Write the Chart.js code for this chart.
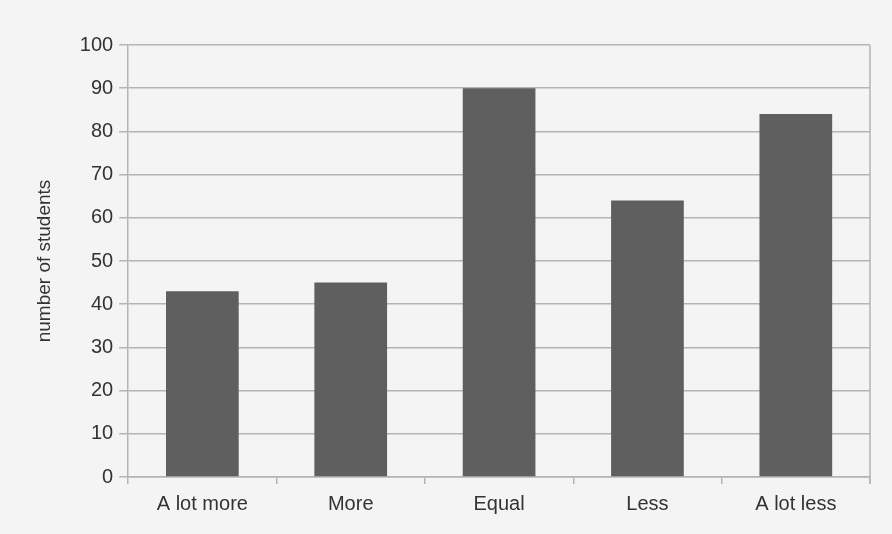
<!DOCTYPE html>
<html>
<head>
<meta charset="utf-8">
<script src="https://cdn.jsdelivr.net/npm/chart.js@4/dist/chart.umd.min.js"></script>
<style>
  html, body { margin: 0; padding: 0; background: #f4f4f4; }
  #wrap { width: 892px; height: 534px; }
</style>
</head>
<body>
<div id="wrap"><canvas id="barChart" width="892" height="534"></canvas></div>
<script>
const categories = ["A lot more", "More", "Equal", "Less", "A lot less"];
const students = [43, 45, 90, 64, 84];
const yTicks = [0, 10, 20, 30, 40, 50, 60, 70, 80, 90, 100];

// right edge line of the plot box
const rightBorder = {
    id: 'rightBorder',
    afterDraw(chart) {
        const ctx = chart.ctx;
        const a = chart.chartArea;
        ctx.save();
        ctx.strokeStyle = '#b4b4b4';
        ctx.lineWidth = 1.5;
        ctx.beginPath();
        ctx.moveTo(a.right, a.top);
        ctx.lineTo(a.right, a.bottom + 7);
        ctx.stroke();
        ctx.restore();
    }
};

const config = {
    type: 'bar',
    data: {
        labels: categories,
        datasets: [{
            label: "number of students",
            data: students,
            backgroundColor: '#5f5f5f',
            borderWidth: 0,
            categoryPercentage: 1,
            barPercentage: 0.49
        }]
    },
    plugins: [rightBorder],
    options: {
        responsive: false,
        animation: false,
        layout: {
            padding: { left: 33, right: 22, top: 45, bottom: 10 }
        },
        plugins: {
            legend: { display: false },
            tooltip: { enabled: false }
        },
        scales: {
            x: {
                grid: {
                    offset: true,
                    drawOnChartArea: false,
                    drawTicks: true,
                    tickLength: 7,
                    color: '#b4b4b4',
                    lineWidth: 1.5
                },
                border: { color: '#b4b4b4', width: 1.5 },
                ticks: {
                    color: '#333',
                    font: { family: 'Liberation Sans', size: 20 },
                    padding: 8
                }
            },
            y: {
                min: 0,
                max: 100,
                afterBuildTicks(axis) {
                    axis.ticks = yTicks.map(v => ({ value: v }));
                },
                grid: {
                    color: '#b4b4b4',
                    lineWidth: 1.5,
                    tickLength: 9
                },
                border: { color: '#b4b4b4', width: 1.5 },
                ticks: {
                    color: '#333',
                    font: { family: 'Liberation Sans', size: 20 },
                    padding: 6
                },
                title: {
                    display: true,
                    text: 'number of students',
                    color: '#333',
                    font: { family: 'Liberation Sans', size: 19 },
                    padding: { top: 0, bottom: 18 }
                }
            }
        }
    }
};

const barChart = new Chart(document.getElementById("barChart"), config);
</script>
</body>
</html>
